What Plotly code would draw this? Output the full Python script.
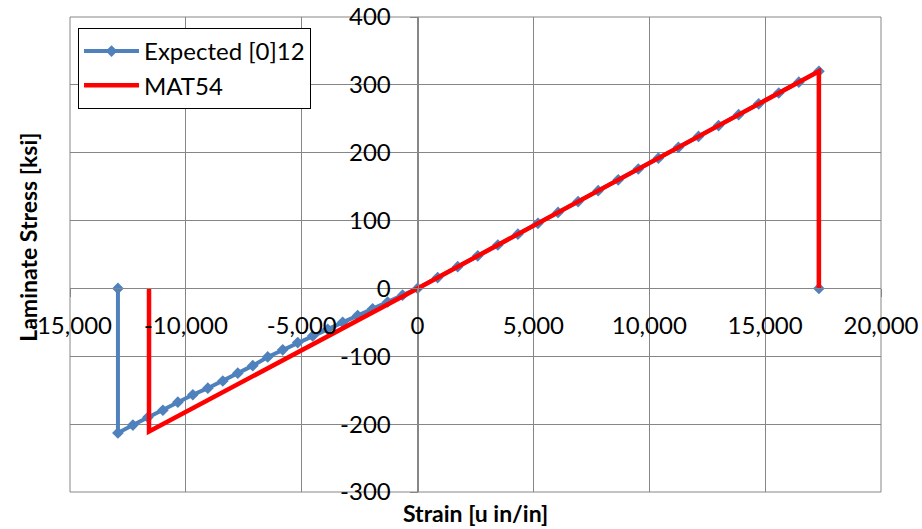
import plotly.graph_objects as go

# Expected [0]12 stress-strain response (compression branch, then tension branch)
exp_strain = [
    -12931, -12931, -12284, -11638, -10991, -10345, -9698, -9052, -8405, -7759,
    -7112, -6466, -5819, -5172, -4526, -3879, -3233, -2586, -1940, -1293, -647,
    0, 866, 1732, 2598, 3464, 4330, 5196, 6062, 6928, 7794, 8660, 9526, 10392,
    11258, 12124, 12990, 13856, 14722, 15588, 16454, 17320, 17320,
]
exp_stress = [
    0, -213, -201.4, -190, -179.5, -167.6, -156.7, -147, -136.4, -124.9,
    -113.8, -101, -90.5, -79.8, -70, -60.2, -50, -40, -30, -20, -10,
    0, 16, 32, 48, 64, 80, 96, 112, 128, 144, 160, 176, 192,
    208, 224, 240, 256, 272, 288, 304, 320, 0,
]

# MAT54 model response
mat_strain = [-11590, -11590, 0, 17320, 17320]
mat_stress = [0, -211, 0, 320, 0]

# Axis ticks
x_tickvals = [-15000, -10000, -5000, 0, 5000, 10000, 15000, 20000]
x_ticktext = ["-15,000", "-10,000", "-5,000", "0", "5,000", "10,000", "15,000", "20,000"]
y_tickvals = [-300, -200, -100, 0, 100, 200, 300, 400]
y_ticktext = ["-300", "-200", "-100", "0", "100", "200", "300", "400"]

X_RANGE = [-15000, 20000]
Y_RANGE = [-300, 400]

FONT = "Lato"
GRID = "#868686"
TICK_SIZE = 24

fig = go.Figure()
fig.add_trace(go.Scatter(
    x=exp_strain, y=exp_stress, name="Expected [0]12", legendgroup="a",
    mode="lines+markers",
    line=dict(color="#4F81BD", width=4),
    marker=dict(symbol="diamond", size=9, color="#4F81BD"),
))
fig.add_trace(go.Scatter(
    x=mat_strain, y=mat_stress, name="MAT54", legendgroup="b",
    mode="lines",
    line=dict(color="#FF0000", width=4.5),
))

# axes cross at the origin
x_pos = (0 - Y_RANGE[0]) / (Y_RANGE[1] - Y_RANGE[0])
y_pos = (0 - X_RANGE[0]) / (X_RANGE[1] - X_RANGE[0])

fig.update_layout(
    width=922, height=529,
    margin=dict(l=70, r=41, t=17, b=37),
    paper_bgcolor="white", plot_bgcolor="white",
    font=dict(family=FONT, size=TICK_SIZE, color="black"),
    showlegend=True,
    legend=dict(
        x=0.0099, y=0.977, xanchor="left", yanchor="top",
        bgcolor="white", bordercolor="black", borderwidth=1,
        font=dict(family=FONT, size=24, color="black"),
        tracegroupgap=0, itemwidth=55,
    ),
    xaxis=dict(
        range=X_RANGE, tickvals=x_tickvals, ticktext=x_ticktext,
        anchor="free", position=x_pos,
        showgrid=True, gridcolor=GRID, gridwidth=1, zeroline=False,
        showline=True, linecolor=GRID, linewidth=1,
        ticks="outside", ticklen=8, tickcolor=GRID,
        ticklabelstandoff=8,
        tickfont=dict(family=FONT, size=TICK_SIZE, color="black"),
        automargin=False,
    ),
    yaxis=dict(
        range=Y_RANGE, tickvals=y_tickvals, ticktext=y_ticktext,
        anchor="free", position=y_pos,
        showgrid=True, gridcolor=GRID, gridwidth=1, zeroline=False,
        showline=True, linecolor=GRID, linewidth=1,
        ticks="outside", ticklen=8, tickcolor=GRID,
        ticklabelstandoff=14,
        tickfont=dict(family=FONT, size=TICK_SIZE, color="black"),
        automargin=False,
    ),
    shapes=[dict(
        type="rect", xref="paper", yref="paper", x0=0, x1=1, y0=0, y1=1,
        line=dict(color=GRID, width=1), layer="below",
    )],
    annotations=[
        dict(text="<b>Strain [u in/in]</b>", xref="paper", yref="paper",
             x=0.5, y=-0.044, xanchor="center", yanchor="middle",
             showarrow=False, font=dict(family=FONT, size=23, color="black")),
        dict(text="<b>Laminate Stress [ksi]</b>", xref="paper", yref="paper",
             x=-0.052, y=0.537, xanchor="center", yanchor="middle", textangle=-90,
             showarrow=False, font=dict(family=FONT, size=23, color="black")),
    ],
)

fig.write_html("out.html")
